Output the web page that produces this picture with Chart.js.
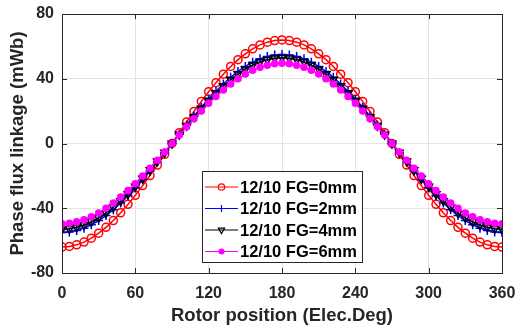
<!DOCTYPE html>
<html>
<head>
<meta charset="utf-8">
<script src="https://cdn.jsdelivr.net/npm/chart.js@4/dist/chart.umd.min.js"></script>
<style>
  html, body { margin: 0; padding: 0; background: #fff; }
  #wrap { width: 516px; height: 331px; }
</style>
</head>
<body>
<div id="wrap"><canvas id="c" width="516" height="331"></canvas></div>
<script>
// Rotor position samples (electrical degrees)
const rotorDeg = [0,6,12,18,24,30,36,42,48,54,60,66,72,78,84,90,96,102,108,114,120,126,132,138,144,150,156,162,168,174,180,
  186,192,198,204,210,216,222,228,234,240,246,252,258,264,270,276,282,288,294,300,306,312,318,324,330,336,342,348,354,360];

// Phase flux linkage (mWb) for each flux-gap width
const fg0mm = [-64,-63.6,-62.6,-60.9,-58.5,-55.4,-51.8,-47.6,-42.8,-37.6,-32,-26,-19.8,-13.3,-6.7,0,
  6.7,13.3,19.8,26,32,37.6,42.8,47.6,51.8,55.4,58.5,60.9,62.6,63.6,64,
  63.6,62.6,60.9,58.5,55.4,51.8,47.6,42.8,37.6,32,26,19.8,13.3,6.7,0,
  -6.7,-13.3,-19.8,-26,-32,-37.6,-42.8,-47.6,-51.8,-55.4,-58.5,-60.9,-62.6,-63.6,-64];
const fg2mm = [-55,-54.7,-53.8,-52.3,-50.2,-47.6,-44.5,-40.9,-36.8,-32.3,-27.5,-22.4,-17,-11.4,-5.7,0,
  5.7,11.4,17,22.4,27.5,32.3,36.8,40.9,44.5,47.6,50.2,52.3,53.8,54.7,55,
  54.7,53.8,52.3,50.2,47.6,44.5,40.9,36.8,32.3,27.5,22.4,17,11.4,5.7,0,
  -5.7,-11.4,-17,-22.4,-27.5,-32.3,-36.8,-40.9,-44.5,-47.6,-50.2,-52.3,-53.8,-54.7,-55];
const fg4mm = [-53,-52.7,-51.8,-50.4,-48.4,-45.9,-42.9,-39.4,-35.5,-31.2,-26.5,-21.6,-16.4,-11,-5.5,0,
  5.5,11,16.4,21.6,26.5,31.2,35.5,39.4,42.9,45.9,48.4,50.4,51.8,52.7,53,
  52.7,51.8,50.4,48.4,45.9,42.9,39.4,35.5,31.2,26.5,21.6,16.4,11,5.5,0,
  -5.5,-11,-16.4,-21.6,-26.5,-31.2,-35.5,-39.4,-42.9,-45.9,-48.4,-50.4,-51.8,-52.7,-53];
const fg6mm = [-49.5,-49.2,-48.4,-47.1,-45.2,-42.9,-40,-36.8,-33.1,-29.1,-24.8,-20.1,-15.3,-10.3,-5.2,0,
  5.2,10.3,15.3,20.1,24.8,29.1,33.1,36.8,40,42.9,45.2,47.1,48.4,49.2,49.5,
  49.2,48.4,47.1,45.2,42.9,40,36.8,33.1,29.1,24.8,20.1,15.3,10.3,5.2,0,
  -5.2,-10.3,-15.3,-20.1,-24.8,-29.1,-33.1,-36.8,-40,-42.9,-45.2,-47.1,-48.4,-49.2,-49.5];

const seriesLabels = ['12/10 FG=0mm', '12/10 FG=2mm', '12/10 FG=4mm', '12/10 FG=6mm'];
const xTicks = [0, 60, 120, 180, 240, 300, 360];
const yTicks = [-80, -40, 0, 40, 80];

const TEXT = '#262626';
const FONT = '"Liberation Sans", Arial, sans-serif';

function pts(vals) { return rotorDeg.map((d, i) => ({ x: d, y: vals[i] })); }

const styles = [
  { color: '#ff0000', pointStyle: 'circle', radius: 4, rotation: 0, fill: 'rgba(0,0,0,0)' },
  { color: '#0000ff', pointStyle: 'cross', radius: 4.5, rotation: 0, fill: '#0000ff' },
  { color: '#000000', pointStyle: 'triangle', radius: 4.5, rotation: 180, fill: 'rgba(0,0,0,0)' },
  { color: '#ff00ff', pointStyle: 'circle', radius: 3, rotation: 0, fill: '#ff00ff' }
];
const seriesData = [fg0mm, fg2mm, fg4mm, fg6mm];

const datasets = seriesData.map((vals, i) => ({
  label: seriesLabels[i],
  data: pts(vals),
  borderColor: styles[i].color,
  backgroundColor: styles[i].fill,
  borderWidth: 1.5,
  pointStyle: styles[i].pointStyle,
  pointRadius: styles[i].radius,
  pointRotation: styles[i].rotation,
  pointBorderColor: styles[i].color,
  pointBackgroundColor: styles[i].fill,
  pointBorderWidth: 1.5,
  tension: 0,
  order: 4 - i
}));

// Axes box, inward tick marks and the in-plot legend
const frame = {
  id: 'frame',
  afterDraw(chart) {
    const { ctx, chartArea: a, scales } = chart;
    const xs = scales.x, ys = scales.y;
    ctx.save();
    ctx.strokeStyle = '#262626';
    ctx.lineWidth = 1;
    ctx.beginPath();
    const tl = 5;
    xTicks.forEach(v => {
      const px = Math.round(xs.getPixelForValue(v)) + 0.5;
      ctx.moveTo(px, a.bottom); ctx.lineTo(px, a.bottom - tl);
      ctx.moveTo(px, a.top); ctx.lineTo(px, a.top + tl);
    });
    yTicks.forEach(v => {
      const py = Math.round(ys.getPixelForValue(v)) + 0.5;
      ctx.moveTo(a.left, py); ctx.lineTo(a.left + tl, py);
      ctx.moveTo(a.right, py); ctx.lineTo(a.right - tl, py);
    });
    ctx.stroke();
    ctx.strokeRect(Math.round(a.left) + 0.5, Math.round(a.top) + 0.5,
      Math.round(a.right - a.left), Math.round(a.bottom - a.top));

    // legend
    const bx = 202.5, by = 171.5, bw = 160, bh = 91;
    ctx.fillStyle = '#ffffff';
    ctx.fillRect(bx, by, bw, bh);
    ctx.strokeStyle = '#262626';
    ctx.strokeRect(bx, by, bw, bh);
    ctx.font = 'bold 16.5px ' + FONT;
    ctx.textBaseline = 'middle';
    ctx.textAlign = 'left';
    const rowY = [187, 208.5, 230, 251.5];
    datasets.forEach((ds, i) => {
      const y = rowY[i];
      ctx.strokeStyle = ds.borderColor;
      ctx.lineWidth = 1.2;
      ctx.beginPath();
      ctx.moveTo(205, y); ctx.lineTo(238, y);
      ctx.stroke();
      ctx.fillStyle = ds.pointBackgroundColor;
      ctx.strokeStyle = ds.borderColor;
      ctx.lineWidth = 1.2;
      Chart.helpers.drawPoint(ctx, {
        pointStyle: ds.pointStyle,
        rotation: ds.pointRotation,
        radius: ds.pointRadius * 0.8,
        borderWidth: 1.2
      }, 221.5, y);
      ctx.fillStyle = '#000000';
      ctx.fillText(ds.label, 240, y + 1);
    });
    ctx.restore();
  }
};

new Chart(document.getElementById('c'), {
  type: 'line',
  data: { datasets },
  options: {
    responsive: false,
    animation: false,
    layout: { padding: { top: 14, right: 14, left: 0, bottom: 0 } },
    plugins: { legend: { display: false }, tooltip: { enabled: false } },
    scales: {
      x: {
        type: 'linear',
        min: 0, max: 360,
        afterBuildTicks(scale) { scale.ticks = xTicks.map(v => ({ value: v })); },
        afterFit(scale) { scale.height = 58; scale.paddingLeft = 0; scale.paddingRight = 0; },
        ticks: { color: TEXT, font: { family: FONT, size: 16, weight: 'bold' }, padding: 11, maxRotation: 0 },
        grid: { color: '#e3e3e3', drawTicks: false, lineWidth: 1 },
        border: { display: false },
        title: { display: true, text: 'Rotor position (Elec.Deg)', color: TEXT,
          font: { family: FONT, size: 18.5, weight: 'bold' }, padding: { top: 4, bottom: 4 } }
      },
      y: {
        type: 'linear',
        min: -80, max: 80,
        afterBuildTicks(scale) { scale.ticks = yTicks.map(v => ({ value: v })); },
        afterFit(scale) { scale.width = 62; scale.paddingTop = 0; scale.paddingBottom = 0; },
        ticks: { color: TEXT, font: { family: FONT, size: 16, weight: 'bold' }, padding: 8 },
        grid: { color: '#e3e3e3', drawTicks: false, lineWidth: 1 },
        border: { display: false },
        title: { display: true, text: 'Phase flux linkage (mWb)', color: TEXT,
          font: { family: FONT, size: 18.5, weight: 'bold' }, padding: { top: 7, bottom: 7 } }
      }
    }
  },
  plugins: [frame]
});
</script>
</body>
</html>
